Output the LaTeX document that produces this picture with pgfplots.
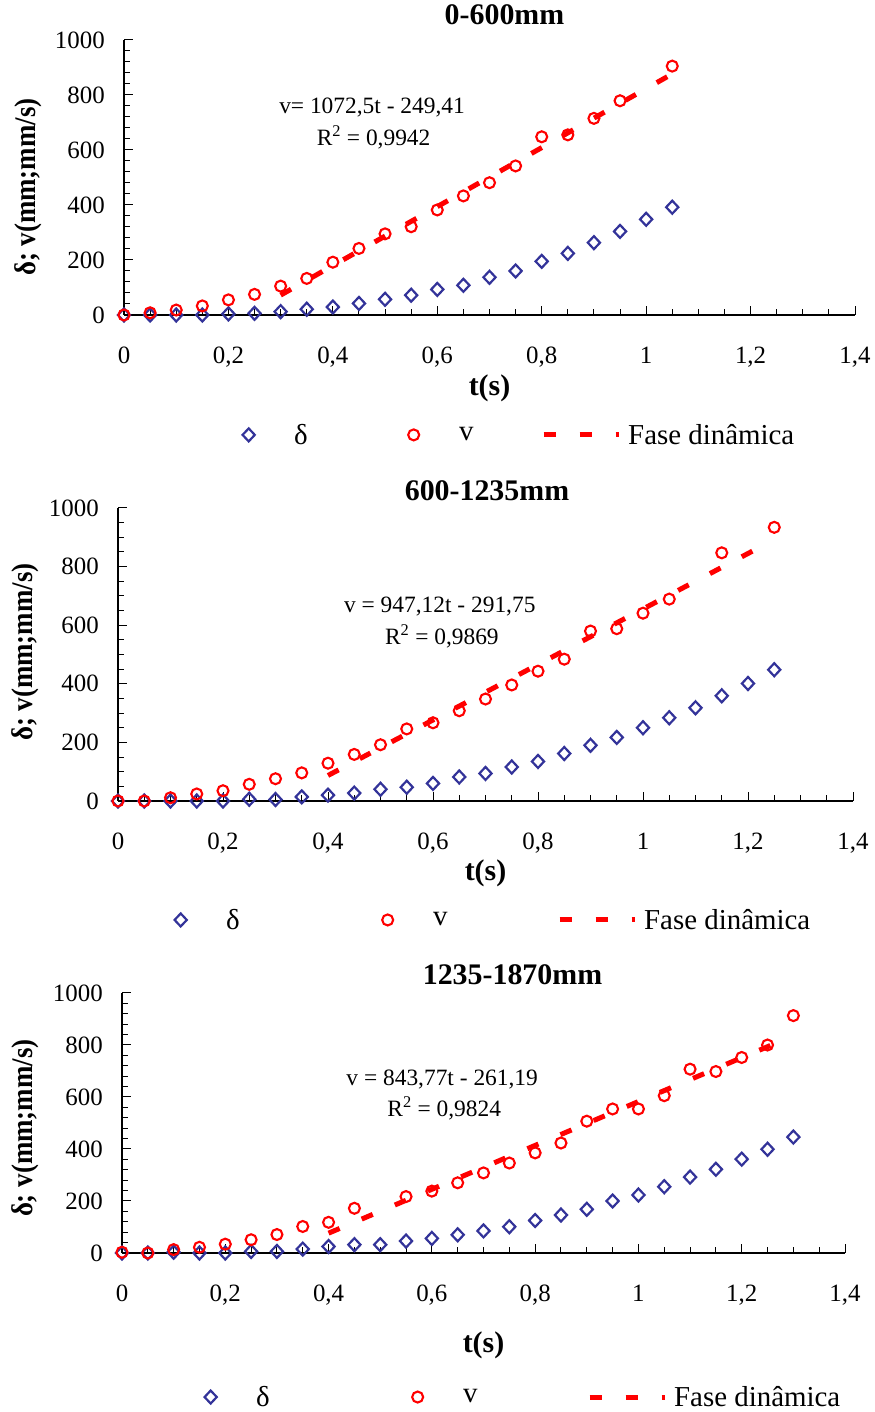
\documentclass[border=0pt]{standalone}
\usepackage{fontspec}
\setmainfont{Liberation Serif}
\usepackage{pgfplots}
\usepackage{pgfplotstable}
\pgfplotsset{compat=1.18}
\definecolor{dblue}{RGB}{51,51,153}
\definecolor{vred}{RGB}{255,0,0}

% ---------- data: panel 1 (0-600mm)
\pgfplotstableread{
t d
0 0
0.05 0
0.1 0
0.15 0
0.2 4
0.25 6
0.3 12
0.35 21
0.4 29
0.45 42
0.5 57
0.55 72
0.6 93
0.65 108
0.7 137
0.75 160
0.8 195
0.85 224
0.9 263
0.95 304
1.0 348
1.05 392
}\dA
\pgfplotstableread{
t v
0 0
0.05 8
0.1 18
0.15 33
0.2 55
0.25 75
0.3 105
0.35 133
0.4 192
0.45 242
0.5 295
0.55 321
0.6 382
0.65 433
0.7 481
0.75 542
0.8 648
0.85 655
0.9 715
0.95 779
1.05 905
}\vA
\pgfplotstableread{
t v
0.3 72.3
1.05 876.7
}\fA
% ---------- data: panel 2 (600-1235mm)
\pgfplotstableread{
t d
0 0
0.05 0
0.1 0
0.15 0
0.2 0
0.25 6
0.3 5
0.35 14
0.4 20
0.45 27
0.5 40
0.55 47
0.6 60
0.65 82
0.7 94
0.75 116
0.8 135
0.85 162
0.9 190
0.95 217
1.0 250
1.05 284
1.1 318
1.15 359
1.2 401
1.25 448
}\dB
\pgfplotstableread{
t v
0 0
0.05 0
0.1 11
0.15 24
0.2 35
0.25 57
0.3 76
0.35 96
0.4 129
0.45 159
0.5 192
0.55 246
0.6 267
0.65 308
0.7 348
0.75 396
0.8 443
0.85 484
0.9 580
0.95 588
1.0 641
1.05 689
1.15 847
1.25 934
}\vB
\pgfplotstableread{
t v
0.4 87.1
1.22 863.7
}\fB
% ---------- data: panel 3 (1235-1870mm)
\pgfplotstableread{
t d
0 0
0.05 0
0.1 3
0.15 0
0.2 0
0.25 6
0.3 6
0.35 15
0.4 25
0.45 32
0.5 32
0.55 46
0.6 56
0.65 70
0.7 85
0.75 101
0.8 125
0.85 146
0.9 168
0.95 200
1.0 223
1.05 255
1.1 292
1.15 322
1.2 361
1.25 399
1.3 446
}\dC
\pgfplotstableread{
t v
0 3
0.05 0
0.1 13
0.15 22
0.2 34
0.25 51
0.3 71
0.35 102
0.4 118
0.45 172
0.55 217
0.6 238
0.65 270
0.7 308
0.75 346
0.8 385
0.85 423
0.9 507
0.95 554
1.0 554
1.05 605
1.1 707
1.15 698
1.2 752
1.25 800
1.3 913
}\vC
\pgfplotstableread{
t v
0.4 76.3
1.26 801.9
}\fC

\tikzset{eq/.style={font=\fontsize{23.5}{28}\selectfont, anchor=center}}
\pgfplotsset{
  panel/.style={
    scale only axis, clip=false,
    xmin=0, xmax=1.4, ymin=0, ymax=1000,
    axis x line=bottom, axis y line=left,
    axis line style={-, line width=1.2bp, black},
    tick align=inside,
    major tick length=9bp, minor tick length=6bp,
    every tick/.style={black, line width=1bp},
    xtick={0,0.2,0.4,0.6,0.8,1,1.2,1.4},
    xticklabels={0,{0,2},{0,4},{0,6},{0,8},1,{1,2},{1,4}},
    minor x tick num=3,
    ytick={0,200,400,600,800,1000},
    yticklabels={0,200,400,600,800,1000},
    tick label style={font=\fontsize{25}{30}\selectfont},
    xticklabel style={anchor=base, inner sep=0pt, yshift=-48.5bp},
    yticklabel style={anchor=east, inner sep=0pt, xshift=-19bp},
    title style={font=\bfseries\fontsize{30}{36}\selectfont, anchor=center},
    xlabel={t(s)},
    ylabel={δ; v(mm;mm/s)},
    label style={font=\bfseries\fontsize{30}{36}\selectfont},
    xlabel style={at={(axis description cs:0.5,0)}, anchor=center},
    ylabel style={anchor=center, xscale=0.9},
    legend columns=3,
    legend cell align=left,
    legend style={draw=none, fill=none, inner sep=0pt, anchor=west,
      nodes={inner sep=0pt, anchor=west},
      font=\fontsize{29}{34}\selectfont,
      /tikz/every even column/.append style={column sep=0pt}},
    legend image code/.code={%
      \path[draw=none, fill=none] (0bp,-6bp) rectangle (75bp,6bp);
      \draw[mark repeat=2,mark phase=2,##1] plot coordinates {(0bp,0bp) (37.5bp,0bp) (75bp,0bp)};},
  },
  dser/.style={only marks, mark=diamond, mark size=6.5bp,
    mark options={draw=dblue, line width=2.2bp, fill=none, xscale=1.25}},
  vser/.style={only marks, mark=o, mark size=5.5bp,
    mark options={draw=vred, line width=2.1bp, fill=none}},
  fser/.style={vred, line width=5bp, dash pattern=on 12bp off 24bp, no marks},
}

\begin{document}
\begin{tikzpicture}
\useasboundingbox (0,0) rectangle (875bp,1412bp);

% ---------------- panel 1
\begin{axis}[panel, at={(124bp,1097bp)}, anchor=south west,
  width=731bp, height=275bp,
  minor y tick num=4,
  title={0-600mm},
  title style={at={(axis description cs:0.5,1)}, yshift=19bp, xshift=15bp},
  xlabel style={yshift=-73bp},
  ylabel style={at={(axis description cs:-0.131,0.465)}},
  legend style={at={(axis description cs:0.119,-0.436)}},
]
\addplot[dser] table[x=t,y=d] {\dA};
\addlegendentry{\makebox[90bp][l]{\hspace{8bp}δ}}
\addplot[vser] table[x=t,y=v] {\vA};
\addlegendentry{\makebox[90bp][l]{\hspace{8bp}v}}
\addplot[fser] table[x=t,y=v] {\fA};
\addlegendentry{\hspace{7bp}Fase dinâmica}
\node[eq] at (axis cs:0.475,756) {v= 1072,5t - 249,41};
\node[eq] at (axis cs:0.478,647) {R\textsuperscript{2} = 0,9942};
\end{axis}

% ---------------- panel 2
\begin{axis}[panel, at={(118bp,611bp)}, anchor=south west,
  width=735bp, height=293bp,
  minor y tick num=3,
  title={600-1235mm},
  title style={at={(axis description cs:0.5,1)}, yshift=11bp, xshift=1.5bp},
  xlabel style={yshift=-72bp},
  ylabel style={at={(axis description cs:-0.1265,0.508)}},
  legend style={at={(axis description cs:0.034,-0.406)}},
]
\addplot[dser] table[x=t,y=d] {\dB};
\addlegendentry{\makebox[132bp][l]{\hspace{8bp}δ}}
\addplot[vser] table[x=t,y=v] {\vB};
\addlegendentry{\makebox[132bp][l]{\hspace{8bp}v}}
\addplot[fser] table[x=t,y=v] {\fB};
\addlegendentry{\hspace{7bp}Fase dinâmica}
\node[eq] at (axis cs:0.613,662) {v = 947,12t - 291,75};
\node[eq] at (axis cs:0.617,563) {R\textsuperscript{2} = 0,9869};
\end{axis}

% ---------------- panel 3
\begin{axis}[panel, at={(122bp,159bp)}, anchor=south west,
  width=723bp, height=260bp,
  minor y tick num=4,
  title={1235-1870mm},
  title style={at={(axis description cs:0.5,1)}, yshift=12bp, xshift=29bp},
  xlabel style={yshift=-92bp},
  ylabel style={at={(axis description cs:-0.134,0.48)}},
  legend style={at={(axis description cs:0.0705,-0.554)}},
]
\addplot[dser] table[x=t,y=d] {\dC};
\addlegendentry{\makebox[132bp][l]{\hspace{8bp}δ}}
\addplot[vser] table[x=t,y=v] {\vC};
\addlegendentry{\makebox[132bp][l]{\hspace{8bp}v}}
\addplot[fser] table[x=t,y=v] {\fC};
\addlegendentry{\hspace{7bp}Fase dinâmica}
\node[eq] at (axis cs:0.62,669) {v = 843,77t - 261,19};
\node[eq] at (axis cs:0.624,558) {R\textsuperscript{2} = 0,9824};
\end{axis}
\end{tikzpicture}
\end{document}
